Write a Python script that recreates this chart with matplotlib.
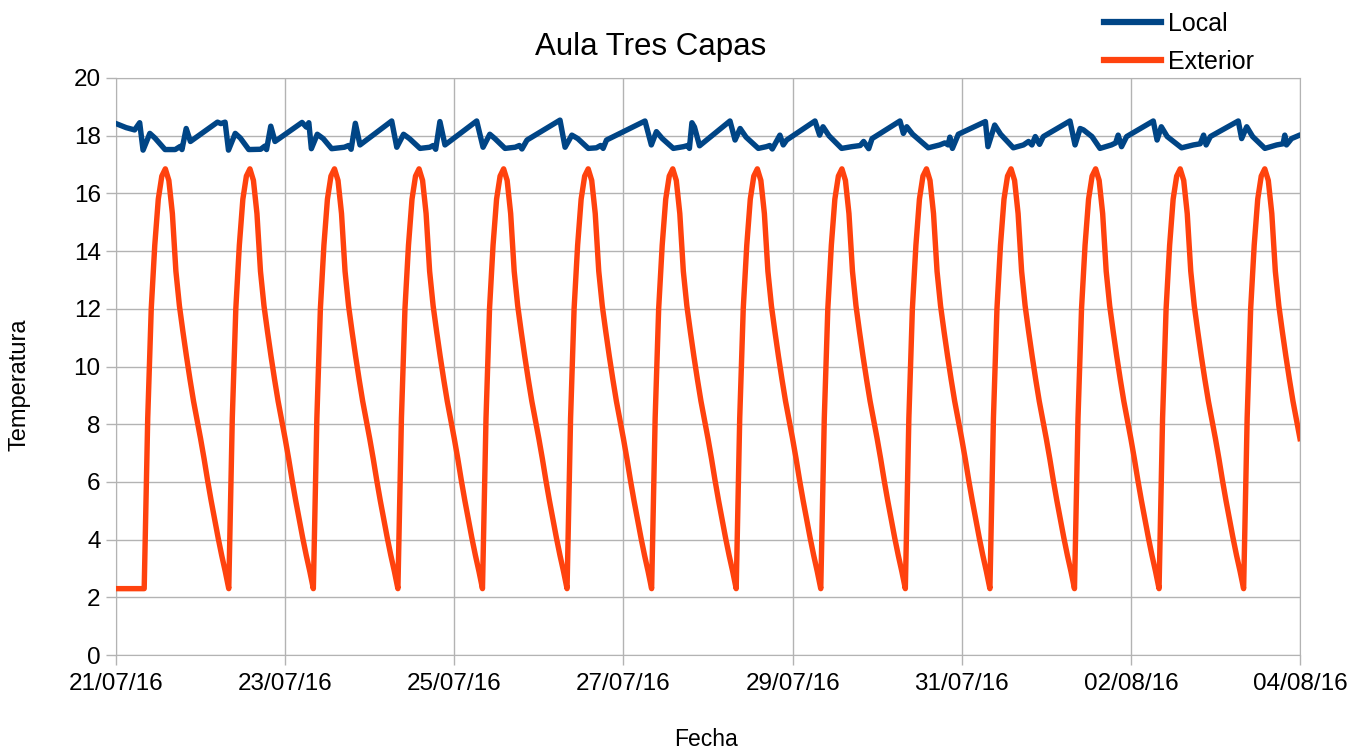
import numpy as np
import matplotlib
matplotlib.use("Agg")
import matplotlib.pyplot as plt
from matplotlib.lines import Line2D

plt.rcParams['font.family'] = ['Liberation Sans', 'DejaVu Sans']

# Exterior temperature: hourly profile of one day (0h..23h), repeated every day
ext_day = [7.5, 6.8, 6.05, 5.35, 4.7, 4.05, 3.45, 2.9,
           2.3, 8.2, 12.0, 14.2, 15.8, 16.6, 16.85, 16.45,
           15.3, 13.3, 12.1, 11.2, 10.35, 9.55, 8.8, 8.15]
ext_start = 2.3       # sensor value before the first morning
n_days = 14

# Local (classroom) temperature: (day, value) vertices
local_t = [0.00, 0.12, 0.22, 0.28, 0.32, 0.40, 0.46, 0.58, 0.70, 0.76, 0.78, 0.83, 0.88,
           1.20, 1.24, 1.29, 1.33, 1.41, 1.47, 1.57, 1.71, 1.76, 1.78, 1.83, 1.88,
           2.20, 2.25, 2.28, 2.31, 2.38, 2.45, 2.55, 2.70, 2.75, 2.78, 2.83, 2.885,
           3.26, 3.32, 3.40, 3.47, 3.595, 3.71, 3.75, 3.78, 3.83, 3.89,
           4.265, 4.34, 4.42, 4.48, 4.60, 4.72, 4.77, 4.80, 4.86,
           5.25, 5.31, 5.39, 5.46, 5.585, 5.68, 5.73, 5.76, 5.80,
           6.255, 6.33, 6.39, 6.46, 6.59, 6.71, 6.76, 6.78, 6.81, 6.84, 6.90,
           7.26, 7.32, 7.38, 7.45, 7.595, 7.69, 7.73, 7.76, 7.85, 7.89, 7.93,
           8.265, 8.32, 8.36, 8.43, 8.58, 8.70, 8.80, 8.84, 8.90, 8.94,
           9.27, 9.31, 9.35, 9.42, 9.605, 9.74, 9.80, 9.84, 9.86, 9.89, 9.96,
           10.28, 10.31, 10.39, 10.46, 10.61, 10.73, 10.79, 10.83, 10.87, 10.92, 10.965,
           11.28, 11.34, 11.40, 11.44, 11.54, 11.635, 11.77, 11.82, 11.85, 11.89, 11.95,
           12.265, 12.31, 12.36, 12.43, 12.60, 12.74, 12.82, 12.86, 12.89, 12.94,
           13.27, 13.31, 13.37, 13.44, 13.585, 13.725, 13.80, 13.82, 13.84, 13.90, 13.98]
local_v = [18.42, 18.28, 18.20, 18.45, 17.50, 18.08, 17.92, 17.52, 17.52, 17.63, 17.52, 18.25, 17.80,
           18.47, 18.42, 18.47, 17.50, 18.08, 17.92, 17.52, 17.53, 17.64, 17.52, 18.33, 17.80,
           18.46, 18.30, 18.45, 17.55, 18.05, 17.90, 17.55, 17.60, 17.66, 17.53, 18.43, 17.68,
           18.51, 17.60, 18.05, 17.90, 17.56, 17.60, 17.66, 17.53, 18.49, 17.68,
           18.51, 17.60, 18.05, 17.90, 17.56, 17.60, 17.66, 17.54, 17.85,
           18.54, 17.60, 18.02, 17.90, 17.56, 17.58, 17.66, 17.56, 17.85,
           18.51, 17.68, 18.14, 17.90, 17.56, 17.62, 17.66, 17.56, 18.45, 18.30, 17.65,
           18.51, 17.85, 18.25, 17.95, 17.56, 17.62, 17.66, 17.54, 18.02, 17.68, 17.85,
           18.51, 18.02, 18.31, 18.00, 17.56, 17.62, 17.66, 17.80, 17.55, 17.90,
           18.51, 18.08, 18.31, 18.05, 17.58, 17.68, 17.75, 17.68, 17.95, 17.56, 18.05,
           18.49, 17.62, 18.37, 18.05, 17.58, 17.68, 17.80, 17.68, 17.97, 17.70, 17.97,
           18.51, 17.68, 18.25, 18.20, 17.97, 17.56, 17.68, 17.75, 18.02, 17.62, 17.97,
           18.51, 17.85, 18.31, 17.97, 17.58, 17.68, 17.72, 18.02, 17.68, 17.97,
           18.51, 17.90, 18.31, 17.97, 17.56, 17.68, 17.72, 18.02, 17.68, 17.90, 18.00]

tick_days = [0, 2, 4, 6, 8, 10, 12, 14]
tick_labels = ['21/07/16', '23/07/16', '25/07/16', '27/07/16',
               '29/07/16', '31/07/16', '02/08/16', '04/08/16']

# build the hourly exterior series
ext_v = np.tile(ext_day, n_days).astype(float)
ext_v[:8] = ext_start
ext_v = np.append(ext_v, ext_day[0])
ext_t = np.arange(len(ext_v)) / 24.0

blue = '#004586'
orange = '#ff420e'
grid_c = '#b3b3b3'

fig = plt.figure(figsize=(13.66, 7.51), dpi=100)
ax = fig.add_axes([116 / 1366, 1 - 655 / 751, 1184 / 1366, 577 / 751])

ax.plot(local_t, local_v, color=blue, lw=3.9, solid_joinstyle='round', zorder=3)
ax.plot(ext_t, ext_v, color=orange, lw=3.9, solid_joinstyle='round', zorder=3)

ax.set_xlim(0, 14)
ax.set_ylim(0, 20)
ax.set_xticks(tick_days)
ax.set_xticklabels(tick_labels)
ax.set_yticks(range(0, 21, 2))
ax.grid(True, color=grid_c, lw=1.0)
ax.set_axisbelow(True)
for s in ax.spines.values():
    s.set_color(grid_c)
ax.tick_params(axis='both', colors=grid_c, labelcolor='black', labelsize=17.5,
               length=7, width=1.0, direction='out')
ax.tick_params(axis='x', pad=6)
ax.tick_params(axis='y', pad=4)

fig.text(651 / 1366, 1 - 47 / 751, 'Aula Tres Capas', ha='center', va='center', fontsize=22.5)
fig.text(20 / 1366, 1 - 385 / 751, 'Temperatura', ha='center', va='center',
         rotation=90, fontsize=17)
fig.text(706 / 1366, 1 - 739 / 751, 'Fecha', ha='center', va='center', fontsize=16.5)

handles = [Line2D([], [], color=blue, lw=4.5), Line2D([], [], color=orange, lw=4.5)]
fig.legend(handles, ['Local', 'Exterior'], loc='upper left',
           bbox_to_anchor=(1081 / 1366, 1 + 11 / 751), frameon=False, fontsize=18,
           handlelength=2.28, handletextpad=0.3, labelspacing=0.57)

fig.savefig('out.png', dpi=100)
